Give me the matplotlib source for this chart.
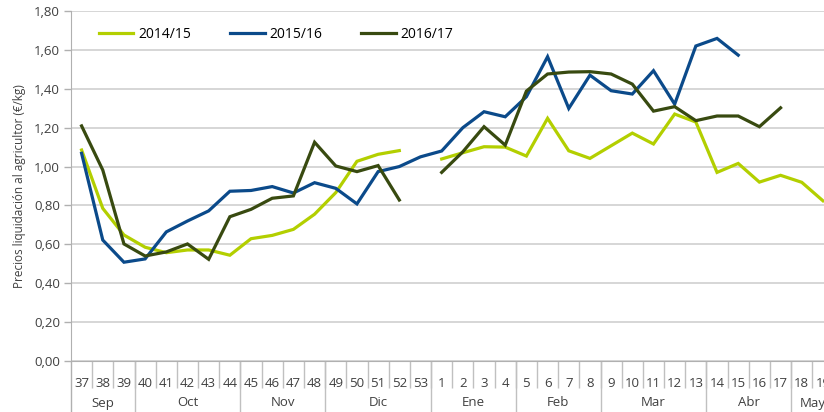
import matplotlib
matplotlib.use("Agg")
import matplotlib.pyplot as plt
import numpy as np

nan = np.nan

weeks = [str(w) for w in range(37, 54)] + [str(w) for w in range(1, 20)]
months = ["Sep", "Oct", "Nov", "Dic", "Ene", "Feb", "Mar", "Abr", "May"]
month_counts = [3, 5, 4, 5, 4, 4, 5, 4, 2]

s2014 = [1.085, 0.785, 0.648, 0.585, 0.557, 0.571, 0.571, 0.544, 0.629, 0.646,
         0.677, 0.755, 0.866, 1.027, 1.063, 1.082, nan,
         1.039, 1.071, 1.102, 1.100, 1.054, 1.248, 1.081, 1.042, 1.107,
         1.172, 1.116, 1.270, 1.229, 0.970, 1.016, 0.920, 0.955, 0.919, 0.824]
s2015 = [1.068, 0.622, 0.508, 0.525, 0.664, 0.720, 0.772, 0.873, 0.877, 0.897,
         0.864, 0.917, 0.888, 0.808, 0.974, 1.000, 1.050,
         1.080, 1.200, 1.282, 1.256, 1.359, 1.565, 1.299, 1.470, 1.390,
         1.373, 1.493, 1.321, 1.620, 1.659, 1.573, nan, nan, nan, nan]
s2016 = [1.209, 0.982, 0.602, 0.540, 0.561, 0.602, 0.523, 0.742, 0.780, 0.837,
         0.849, 1.125, 1.003, 0.974, 1.005, 0.828, nan,
         0.970, 1.076, 1.205, 1.110, 1.388, 1.476, 1.486, 1.488, 1.476,
         1.424, 1.285, 1.308, 1.236, 1.260, 1.260, 1.205, 1.302, nan, nan]

series = [("2014/15", s2014, "#b3cf00"), ("2015/16", s2015, "#0b4a8a"), ("2016/17", s2016, "#384a10")]

plt.rcParams["font.family"] = ["Open Sans", "DejaVu Sans"]
fig = plt.figure(figsize=(8.24, 4.12), dpi=100)
ax = fig.add_axes([71 / 824, 1 - 361 / 412, 1 - 71 / 824, 350 / 412])

x = np.arange(len(weeks))
for name, vals, col in series:
    ax.plot(x, vals, color=col, lw=2.3, label=name, solid_joinstyle="miter")

ax.set_ylim(0, 1.8)
ax.set_xlim(-0.5, 35.05)
ax.set_yticks(np.arange(0, 1.81, 0.2))
ax.set_yticklabels([f"{v:.2f}".replace(".", ",") for v in np.arange(0, 1.81, 0.2)], fontsize=9.5, color="#404040")
ax.yaxis.grid(True, color="#d0d0d0", lw=1.2)
ax.set_axisbelow(True)
ax.tick_params(axis="y", length=5, color="#b0b0b0", width=1, pad=3)
ax.set_xticks([])
for sp in ["top", "right"]:
    ax.spines[sp].set_visible(False)
ax.spines["left"].set_color("#b0b0b0")
ax.spines["bottom"].set_color("#b0b0b0")
ax.set_ylabel("Precios liquidación al agricultor (€/kg)", fontsize=8.5, color="#404040", labelpad=6)

tr = ax.get_xaxis_transform()
# week labels and separators
for i, w in enumerate(weeks):
    ax.text(i, -0.063, w, transform=tr, ha="center", va="center", fontsize=9.5, color="#404040", clip_on=False)
ax.vlines(x[1:] - 0.5, -0.077, 0, transform=tr, colors="#c0c0c0", lw=1, clip_on=False)

# month labels and separators
start = 0
bounds = [-0.5]
for m, n in zip(months, month_counts):
    ax.text(start + (n - 1) / 2, -0.12, m, transform=tr, ha="center", va="center", fontsize=9.5, color="#404040", clip_on=False)
    start += n
    bounds.append(start - 0.5)
ax.vlines(bounds[1:-1], -0.15, 0, transform=tr, colors="#c0c0c0", lw=1, clip_on=False)
ax.vlines([-0.5], -0.15, 0, transform=tr, colors="#b0b0b0", lw=1, clip_on=False)

ax.legend(loc="upper left", bbox_to_anchor=(0.02, 0.99), ncol=3, frameon=False, fontsize=10,
          handlelength=2.5, handletextpad=0.35, columnspacing=2.8)

fig.savefig("out.png", dpi=100)
